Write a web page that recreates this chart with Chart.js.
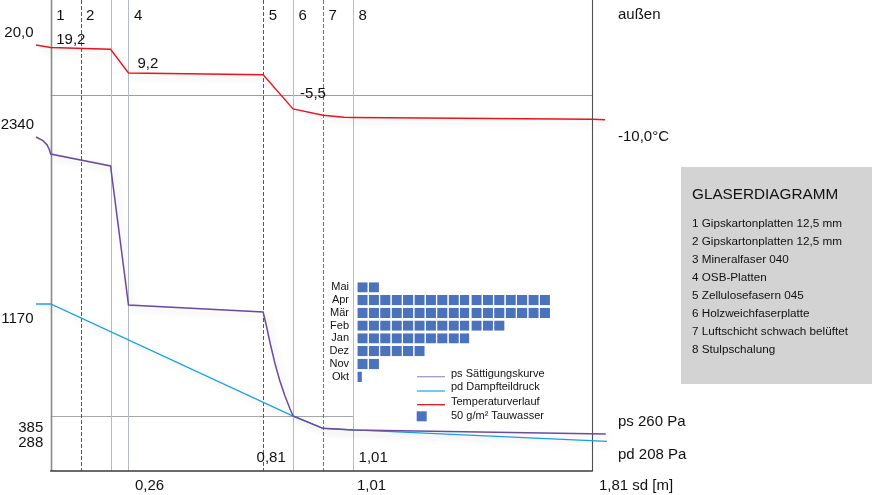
<!DOCTYPE html>
<html><head><meta charset="utf-8">
<script src="https://cdn.jsdelivr.net/npm/chart.js"></script>
<style>html,body{margin:0;padding:0;background:#fff;overflow:hidden}canvas{display:block}</style>
</head><body>
<canvas id="c" width="872" height="495"></canvas>
<script>
// ---------------- DATA ----------------
const layerBoundariesSd = [0, 0.10, 0.20, 0.26, 0.71, 0.81, 0.91, 1.01, 1.81];
const layerNumbers = ['1', '2', '', '4', '5', '6', '7', '8'];   // layer 3 too thin to be numbered
const layerNames = ['1 Gipskartonplatten 12,5 mm', '2 Gipskartonplatten 12,5 mm', '3 Mineralfaser 040',
  '4 OSB-Platten', '5 Zellulosefasern 045', '6 Holzweichfaserplatte', '7 Luftschicht schwach belüftet', '8 Stulpschalung'];
const panelTitle = 'GLASERDIAGRAMM';

// temperature profile (sd [m], °C)
const tempSd = [-0.049, 0, 0.20, 0.26, 0.71, 0.81, 0.91, 0.98, 1.01, 1.81, 1.853];
const tempC  = [20.0, 19.0, 18.3, 8.8, 8.1, -5.6, -8.1, -8.9, -9.0, -9.7, -9.9];
// saturation pressure ps (sd [m], Pa)
const psSd = [-0.049, -0.026, -0.012, -0.004, 0, 0.20, 0.26, 0.71, 0.721, 0.734, 0.750, 0.766, 0.783, 0.800, 0.81, 0.91, 1.01, 1.855];
const psPa = [2340, 2314, 2284, 2249, 2221, 2137, 1163, 1114, 1016, 890, 750, 630, 525, 434, 385, 299, 288, 260];
// partial vapour pressure pd (sd [m], Pa)
const pdSd = [-0.049, 0, 0.81, 0.91, 1.01, 1.859];
const pdPa = [1170, 1170, 385, 299, 288, 208];

// value labels
const tempMarkSd = [0, 0.26, 0.81];
const tempMarkC = [19.2, 9.2, -5.5];
const tempMarkText = ['19,2', '9,2', '-5,5'];
const leftLabelText = ['20,0', '2340', '1170', '385', '288'];
const leftLabelAxis = ['yT', 'yP', 'yP', 'yP', 'yP'];
const leftLabelValue = [20.0, 2340, 1170, 385, 288];
const rightLabelText = ['außen', '-10,0°C', 'ps 260 Pa', 'pd 208 Pa'];
const bottomTickSd = [0.26, 1.01, 1.81];
const bottomTickText = ['0,26', '1,01', '1,81 sd [m]'];
const innerTickSd = [0.81, 1.01];
const innerTickText = ['0,81', '1,01'];
const zeroLineC = 0;            // 0 °C reference line
const condensationPa = 385;     // ps at condensation plane

// condensate (Tauwasser) per month, in squares of 50 g/m²
const months = ['Mai', 'Apr', 'Mär', 'Feb', 'Jan', 'Dez', 'Nov', 'Okt'];
const tauwasserUnits = [2, 17, 17, 13, 10, 6, 2, 0.5];

const legendText = ['ps Sättigungskurve', 'pd Dampfteildruck', 'Temperaturverlauf', '50 g/m² Tauwasser'];

// ---------------- STYLE ----------------
const FONT = '"Liberation Sans", Arial, Helvetica, sans-serif';
const C_PS = '#6a4b9f', C_PD = '#1aa3e4', C_T = '#e8141c', C_BAR = '#4b72bd';

function txt(ctx, s, x, y, size, align, color) {
  ctx.font = size + 'px ' + FONT;
  ctx.fillStyle = color || '#111';
  ctx.textAlign = align || 'left';
  ctx.textBaseline = 'middle';
  ctx.fillText(s, x, y);
}
function seg(ctx, x1, y1, x2, y2) { ctx.beginPath(); ctx.moveTo(x1, y1); ctx.lineTo(x2, y2); ctx.stroke(); }

// boundary line styles (left border, dashed, solid ..., right border)
const boundaryStyle = ['border', 'dash', 'solid', 'solid', 'dash', 'solid', 'dash2', 'solid', 'rborder'];
const SD_END = layerBoundariesSd[layerBoundariesSd.length - 1];

const gridPlugin = {
  id: 'glaserGrid',
  beforeDatasetsDraw(chart) {
    const { ctx, chartArea: a, scales: { x, yT, yP } } = chart;
    ctx.save();
    // horizontal reference lines
    ctx.strokeStyle = '#9c9c9c'; ctx.lineWidth = 1;
    const y0 = Math.round(yT.getPixelForValue(zeroLineC)) + 0.5;
    seg(ctx, x.getPixelForValue(0), y0, x.getPixelForValue(SD_END), y0);
    ctx.strokeStyle = '#a8a8a8';
    const yc = Math.round(yP.getPixelForValue(condensationPa)) + 0.5;
    seg(ctx, x.getPixelForValue(0), yc, x.getPixelForValue(1.01), yc);
    // vertical layer boundaries
    layerBoundariesSd.forEach((b, i) => {
      const px = Math.round(x.getPixelForValue(b)) + 0.5;
      const st = boundaryStyle[i];
      ctx.setLineDash([]);
      if (st === 'border') { ctx.strokeStyle = '#8a8a8a'; ctx.lineWidth = 1.6; }
      else if (st === 'rborder') { ctx.strokeStyle = '#505050'; ctx.lineWidth = 1.1; }
      else if (st === 'solid') { ctx.strokeStyle = '#b7bbc3'; ctx.lineWidth = 1; }
      else if (st === 'dash') { ctx.strokeStyle = '#2a6497'; ctx.lineWidth = 1; ctx.setLineDash([4, 2]); }
      else { ctx.strokeStyle = '#2f86cc'; ctx.lineWidth = 1; ctx.setLineDash([4, 2]); }
      seg(ctx, px, a.top, px, a.bottom);
    });
    ctx.setLineDash([]);
    // bottom axis line
    ctx.strokeStyle = '#3a3a3a'; ctx.lineWidth = 1.4;
    seg(ctx, x.getPixelForValue(0) - 0.5, a.bottom, x.getPixelForValue(SD_END) + 0.5, a.bottom);
    ctx.restore();
  },
  beforeDatasetDraw(chart, args) {
    const ctx = chart.ctx;
    ctx.save();
    if (args.meta.type === 'line') {
      ctx.shadowColor = 'rgba(0,0,0,0.14)';
      ctx.shadowBlur = 7; ctx.shadowOffsetX = 4; ctx.shadowOffsetY = 4;
    }
  },
  afterDatasetDraw(chart) { chart.ctx.restore(); },
  afterDraw(chart) {
    const { ctx, scales: { x, yT, yP, yb } } = chart;
    const X = v => x.getPixelForValue(v);
    const axes = { yT, yP };
    ctx.save();
    // layer numbers
    layerNumbers.forEach((s, i) => { if (s) txt(ctx, s, X(layerBoundariesSd[i]) + 5.5, 16, 15); });
    // temperature values
    const tOff = [[5.5, -7], [9, -8], [7, -14.5]];
    tempMarkText.forEach((s, i) => txt(ctx, s, X(tempMarkSd[i]) + tOff[i][0], yT.getPixelForValue(tempMarkC[i]) + tOff[i][1], 15));
    // left labels
    const lOff = [[33.5, -11.7], [34, -12], [33.5, 15.3], [43.3, 12.3], [43.3, 13.4]];
    leftLabelText.forEach((s, i) => txt(ctx, s, lOff[i][0], axes[leftLabelAxis[i]].getPixelForValue(leftLabelValue[i]) + lOff[i][1], 15, 'right'));
    // right labels
    const rx = X(SD_END) + 25.7;
    txt(ctx, rightLabelText[0], rx, 15, 15);
    txt(ctx, rightLabelText[1], rx, yT.getPixelForValue(-10) + 16.7, 15);
    txt(ctx, rightLabelText[2], rx, yP.getPixelForValue(260) - 12.2, 15);
    txt(ctx, rightLabelText[3], rx, yP.getPixelForValue(208) + 13.7, 15);
    // bottom ticks
    const bOff = [6.5, 4, 6.7];
    bottomTickText.forEach((s, i) => txt(ctx, s, X(bottomTickSd[i]) + bOff[i], 486, 15));
    txt(ctx, innerTickText[0], X(innerTickSd[0]) - 7.3, 458.3, 15, 'right');
    txt(ctx, innerTickText[1], X(innerTickSd[1]) + 5.7, 458, 15);
    // month labels for condensate bars
    months.forEach((m, i) => txt(ctx, m, 349, yb.getPixelForValue(i), 11, 'right'));
    // legend
    const lx0 = 417, lx1 = 445, tx = 451;
    const ly = [374, 387.3, 401.7, 416];
    ctx.lineWidth = 1.3;
    ctx.strokeStyle = '#a497d3'; seg(ctx, lx0, 376.7, lx1, 376.7);
    ctx.strokeStyle = '#27ade8'; seg(ctx, lx0, 391, lx1, 391);
    ctx.strokeStyle = C_T; seg(ctx, lx0, 404.7, lx1, 404.7);
    ctx.fillStyle = C_BAR; ctx.fillRect(416.7, 411.3, 10, 10);
    legendText.forEach((s, i) => txt(ctx, s, tx, ly[i], 11));
    // info panel
    ctx.fillStyle = '#d3d3d3'; ctx.fillRect(681, 167, 191, 217);
    txt(ctx, panelTitle, 692, 195, 15.3);
    layerNames.forEach((s, i) => txt(ctx, s, 692, 223.3 + 18.1 * i, 11.7));
    ctx.restore();
  }
};

const pts = (xs, ys) => xs.map((v, i) => ({ x: v, y: ys[i] }));
const unitCount = Math.ceil(Math.max(...tauwasserUnits));
const tauDatasets = [];
for (let k = 0; k < unitCount; k++) {
  tauDatasets.push({
    type: 'bar', indexAxis: 'y', xAxisID: 'xb', yAxisID: 'yb', stack: 'tau', grouped: false,
    data: tauwasserUnits.map((u, i) => ({ x: Math.min(1, Math.max(0, u - k)), y: i })).filter(d => d.x > 0),
    backgroundColor: C_BAR, borderColor: '#ffffff',
    borderWidth: { left: 0, top: 0, bottom: 0, right: k === 9 ? 2.2 : 1.2 },
    borderSkipped: false, barThickness: 10.3, maxBarThickness: 10.3, inflateAmount: 0
  });
}

new Chart(document.getElementById('c'), {
  type: 'line',
  data: {
    datasets: [
      { label: 'ps', data: pts(psSd, psPa), xAxisID: 'x', yAxisID: 'yP', borderColor: C_PS, borderWidth: 1.5, pointRadius: 0, tension: 0, clip: false },
      { label: 'pd', data: pts(pdSd, pdPa), xAxisID: 'x', yAxisID: 'yP', borderColor: C_PD, borderWidth: 1.3, pointRadius: 0, tension: 0, clip: false },
      { label: 'T', data: pts(tempSd, tempC), xAxisID: 'x', yAxisID: 'yT', borderColor: C_T, borderWidth: 1.3, pointRadius: 0, tension: 0, clip: false },
      ...tauDatasets
    ]
  },
  options: {
    responsive: false, animation: false, events: [],
    layout: { padding: { left: 32.75, right: 252.8, top: 0, bottom: 24 } },
    plugins: { legend: { display: false }, tooltip: { enabled: false }, title: { display: false } },
    scales: {
      x: { type: 'linear', display: false, min: -0.06, max: 1.90, offset: false },
      yT: { type: 'linear', display: false, min: -150.4, max: 38 },
      yP: { type: 'linear', display: false, min: 0, max: 3299.8 },
      xb: { type: 'linear', display: false, min: -28.47, max: 22.97, stacked: true, offset: false },
      yb: { type: 'linear', display: false, min: -22.5, max: 14.38, reverse: true, stacked: true, offset: false, grid: { offset: false } }
    }
  },
  plugins: [gridPlugin]
});
</script>
</body></html>
